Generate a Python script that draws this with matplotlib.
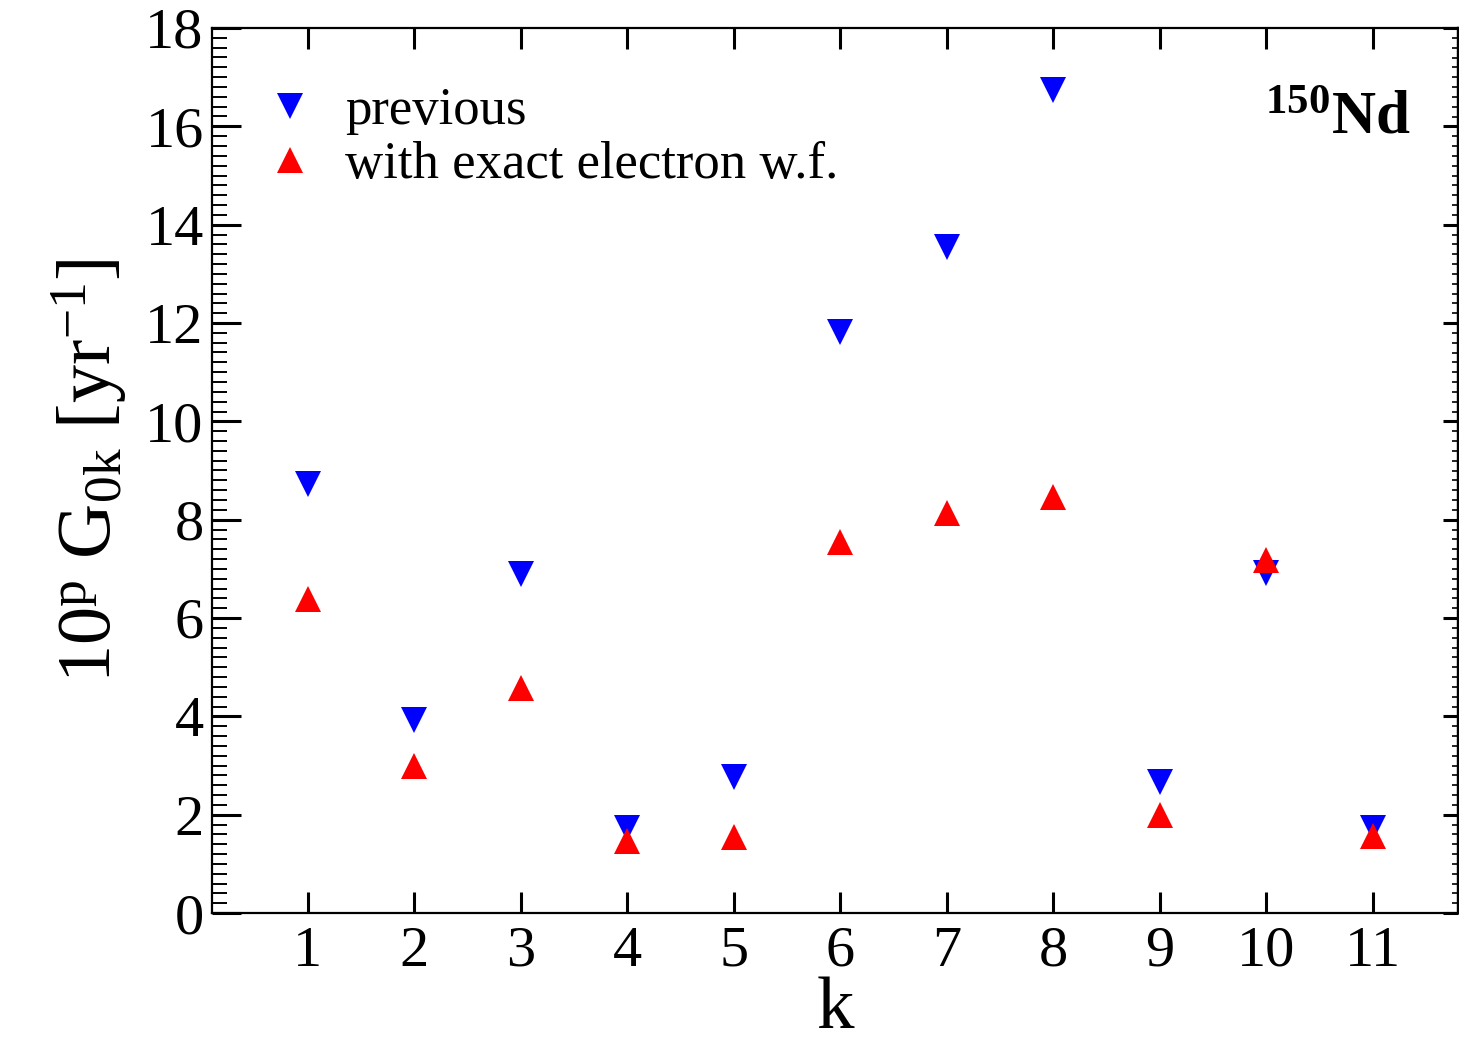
import matplotlib
matplotlib.use("Agg")
import matplotlib.pyplot as plt
from matplotlib.ticker import MultipleLocator

plt.rcParams['font.family'] = ['Liberation Serif', 'DejaVu Serif']
plt.rcParams['mathtext.fontset'] = 'custom'
plt.rcParams['mathtext.rm'] = 'Liberation Serif'
plt.rcParams['mathtext.it'] = 'Liberation Serif:italic'
plt.rcParams['mathtext.bf'] = 'Liberation Serif:bold'

k = [1, 2, 3, 4, 5, 6, 7, 8, 9, 10, 11]
previous = [8.73, 3.93, 6.90, 1.73, 2.77, 11.82, 13.54, 16.74, 2.66, 6.91, 1.73]
exact = [6.38, 2.98, 4.57, 1.47, 1.54, 7.55, 8.14, 8.46, 2.00, 7.18, 1.56]
xticks = [1, 2, 3, 4, 5, 6, 7, 8, 9, 10, 11]
yticks = [0, 2, 4, 6, 8, 10, 12, 14, 16, 18]

fig = plt.figure(figsize=(14.59, 10.42), dpi=100)
ax = fig.add_axes([212/1459, 1-913/1042, (1458-212)/1459, (913-28)/1042])

ax.plot(k, previous, linestyle='none', marker='v', color='#0000ff', ms=19,
        markeredgewidth=0, label='previous')
ax.plot(k, exact, linestyle='none', marker='^', color='#ff0000', ms=19,
        markeredgewidth=0, label='with exact electron w.f.')

ax.set_xlim(0.1, 11.8)
ax.set_ylim(0, 18)
ax.set_xticks(xticks)
ax.set_yticks(yticks)
ax.yaxis.set_minor_locator(MultipleLocator(0.2))

for s in ax.spines.values():
    s.set_linewidth(1.6)

ax.tick_params(axis='y', which='major', direction='in', length=21, width=2.2,
               labelsize=42, pad=6, left=True, right=False)
ax.tick_params(axis='y', which='minor', direction='in', length=11, width=1.4,
               left=True, right=False)
ax.tick_params(axis='x', which='major', direction='in', length=15, width=2.2,
               labelsize=42, pad=9, top=True, bottom=True)

sec = ax.secondary_yaxis('right')
sec.set_yticks(yticks)
sec.yaxis.set_minor_locator(MultipleLocator(0.2))
sec.tick_params(which='major', direction='in', length=11, width=2.2, labelright=False)
sec.tick_params(which='minor', direction='in', length=4, width=1.2)
sec.spines['right'].set_linewidth(1.6)

ax.set_xlabel('k', fontsize=54, labelpad=-1)
ax.set_ylabel(r'10$^{\mathrm{p}}$ G$_{\mathrm{0k}}$ [yr$^{\mathrm{-1}}$]', fontsize=55,
              labelpad=12)

ax.legend(loc='upper left', bbox_to_anchor=(0.02, 0.963), frameon=False,
          fontsize=38, handlelength=1.0, handletextpad=0.55, labelspacing=0.12,
          borderpad=0, markerscale=0.95)

ax.text(0.962, 0.881, r'$^{\mathbf{150}}$Nd', transform=ax.transAxes,
        fontsize=44, fontweight='bold', ha='right', va='baseline')

fig.savefig('out.png', dpi=100)
